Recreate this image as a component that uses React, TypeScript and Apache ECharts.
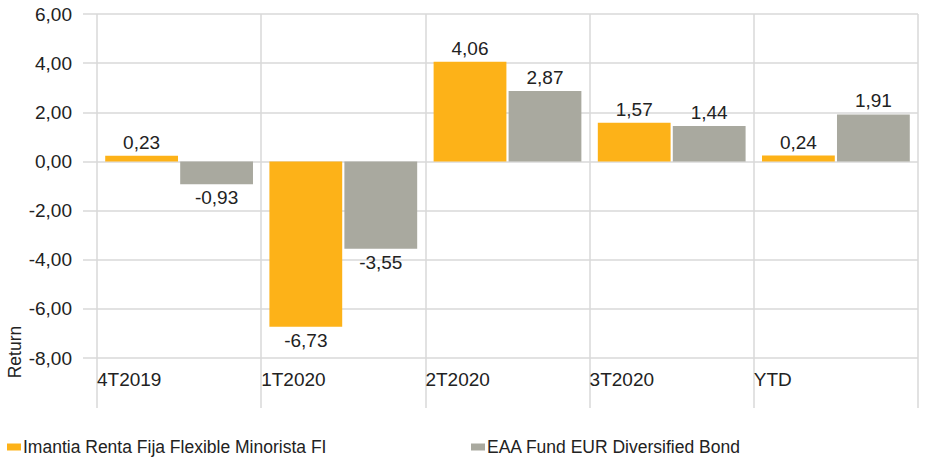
import React, { useEffect, useRef } from "react";
import * as echarts from "echarts";

const categories = ["4T2019", "1T2020", "2T2020", "3T2020", "YTD"];
const seriesNames = ["Imantia Renta Fija Flexible Minorista FI", "EAA Fund EUR Diversified Bond"];
const imantiaValues = [0.23, -6.73, 4.06, 1.57, 0.24];
const eaaValues = [-0.93, -3.55, 2.87, 1.44, 1.91];
const yTicks = { min: -8, max: 6, interval: 2 };

const ORANGE = "#FDB218";
const GRAY = "#A9A99F";
const GRID = "#d9d9d9";
const TEXT = "#222222";
const FONT = "'Liberation Sans', Arial, sans-serif";
const NUM_SIZE = 19;
const LEG_SIZE = 17.5;

const fmt = (v: number) => v.toFixed(2).replace(".", ",");

const toData = (arr: number[]) =>
  arr.map((v) => ({
    value: v,
    label: { position: v < 0 ? "bottom" : "top" },
  }));

export default function App() {
  const ref = useRef<HTMLDivElement>(null);
  useEffect(() => {
    if (!ref.current) return;
    const chart = echarts.init(ref.current, undefined, { renderer: "svg" });
    const labelStyle = {
      show: true,
      distance: 4,
      fontSize: NUM_SIZE,
      fontFamily: FONT,
      color: TEXT,
      formatter: (p: any) => fmt(p.value),
    };
    const legendCommon = {
      top: 438,
      itemWidth: 14,
      itemHeight: 7,
      itemGap: 0,
      padding: 0,
      icon: "rect",
      textStyle: { fontSize: LEG_SIZE, fontFamily: FONT, color: TEXT, padding: [0, 0, 0, -3] },
    };
    chart.setOption({
      animation: false,
      textStyle: { fontFamily: FONT },
      grid: { left: 97, right: 13, top: 14, bottom: 99, containLabel: false },
      xAxis: [
        {
          type: "category",
          data: categories,
          position: "bottom",
          axisLine: { show: false },
          axisTick: { show: false },
          axisLabel: { show: false },
          splitLine: { show: false },
        },
        {
          type: "value",
          min: 0,
          max: categories.length,
          interval: 1,
          position: "bottom",
          axisLine: { show: false },
          axisTick: { show: true, length: 50, lineStyle: { color: GRID, width: 1.5 } },
          splitLine: { show: true, lineStyle: { color: GRID, width: 1.5 } },
          axisLabel: {
            show: true,
            align: "left",
            margin: 12,
            fontSize: NUM_SIZE,
            fontFamily: FONT,
            color: TEXT,
            formatter: (v: number) => (v < categories.length ? categories[v] : ""),
          },
        },
      ],
      yAxis: {
        type: "value",
        min: yTicks.min,
        max: yTicks.max,
        interval: yTicks.interval,
        axisLine: { show: false },
        axisTick: { show: true, length: 14, lineStyle: { color: GRID, width: 1.5 } },
        splitLine: { show: true, lineStyle: { color: GRID, width: 1.5 } },
        axisLabel: {
          margin: 25,
          fontSize: NUM_SIZE,
          fontFamily: FONT,
          color: TEXT,
          formatter: (v: number) => fmt(v),
        },
      },
      legend: [
        { ...legendCommon, data: [seriesNames[0]], left: 7 },
        { ...legendCommon, data: [seriesNames[1]], left: 471 },
      ],
      graphic: [
        {
          type: "text",
          x: 15,
          y: 352,
          rotation: Math.PI / 2,
          style: {
            text: "Return",
            fontSize: LEG_SIZE,
            fontFamily: FONT,
            fill: TEXT,
            align: "center",
            verticalAlign: "middle",
          },
        },
      ],
      series: [
        {
          name: seriesNames[0],
          type: "bar",
          xAxisIndex: 0,
          data: toData(imantiaValues),
          itemStyle: { color: ORANGE },
          barGap: "3%",
          barCategoryGap: "10%",
          label: labelStyle,
        },
        {
          name: seriesNames[1],
          type: "bar",
          xAxisIndex: 0,
          data: toData(eaaValues),
          itemStyle: { color: GRAY },
          barGap: "3%",
          barCategoryGap: "10%",
          label: labelStyle,
        },
      ],
    });
    return () => chart.dispose();
  }, []);
  return <div ref={ref} style={{ width: 931, height: 457, position: "absolute", left: 0, top: 0 }} />;
}
